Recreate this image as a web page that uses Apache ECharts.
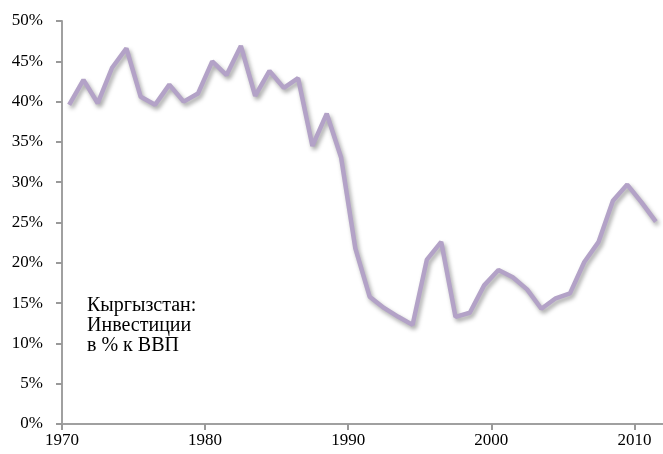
<!DOCTYPE html>
<html>
<head>
<meta charset="utf-8">
<script src="https://cdn.jsdelivr.net/npm/echarts@6/dist/echarts.min.js"></script>
<style>
html,body{margin:0;padding:0;background:#fff;}
#chart{width:663px;height:454px;}
</style>
</head>
<body>
<div id="chart"></div>
<script>
var years = [1970,1971,1972,1973,1974,1975,1976,1977,1978,1979,
             1980,1981,1982,1983,1984,1985,1986,1987,1988,1989,
             1990,1991,1992,1993,1994,1995,1996,1997,1998,1999,
             2000,2001,2002,2003,2004,2005,2006,2007,2008,2009,
             2010,2011];
var investment = [39.6,42.7,39.8,44.2,46.6,40.6,39.6,42.1,40.0,41.0,
                  45.0,43.3,46.9,40.7,43.8,41.7,42.9,34.5,38.5,33.1,
                  21.8,15.8,14.4,13.3,12.3,20.4,22.6,13.3,13.8,17.2,
                  19.1,18.2,16.7,14.3,15.6,16.2,20.1,22.6,27.7,29.7,
                  27.5,25.1];
var xTickLabels = [1970,1980,1990,2000,2010];
var annotation = ['Кыргызстан:', 'Инвестиции', 'в % к ВВП'];

// each annual value is plotted at mid-year
var seriesData = years.map(function(y, i){ return [y + 0.5, investment[i]]; });

var chart = echarts.init(document.getElementById('chart'));
var font = '"Liberation Serif", "Times New Roman", serif';
chart.setOption({
  animation: false,
  grid: {left: 62, right: 0, top: 21, bottom: 30},
  xAxis: {
    type: 'value',
    min: 1970, max: 2012, interval: 10,
    axisLine: {show: true, lineStyle: {color: '#a0a0a0', width: 2}},
    axisTick: {show: true, length: 6, lineStyle: {color: '#999999', width: 2}},
    axisLabel: {color: '#000', fontFamily: font, fontSize: 17, margin: 8, showMaxLabel: false,
                formatter: function(v){ return xTickLabels.indexOf(v) >= 0 ? String(v) : ''; }},
    splitLine: {show: false}
  },
  yAxis: {
    type: 'value',
    min: 0, max: 50, interval: 5,
    axisLine: {show: true, lineStyle: {color: '#a0a0a0', width: 2}},
    axisTick: {show: true, length: 6, lineStyle: {color: '#999999', width: 2}},
    axisLabel: {color: '#000', fontFamily: font, fontSize: 17, margin: 19,
                formatter: function(v){ return v + '%'; }},
    splitLine: {show: false}
  },
  graphic: [{
    type: 'text',
    left: 87, top: 296,
    style: {
      text: annotation.join('\n'),
      fontFamily: font,
      fontSize: 20,
      lineHeight: 20,
      fill: '#000'
    }
  }],
  series: [{
    type: 'line',
    data: seriesData,
    showSymbol: false,
    lineStyle: {
      color: '#b3a2c7', width: 4.5,
      shadowColor: 'rgba(0,0,0,0.35)', shadowBlur: 4, shadowOffsetX: 2, shadowOffsetY: 3
    }
  }]
});
</script>
</body>
</html>
